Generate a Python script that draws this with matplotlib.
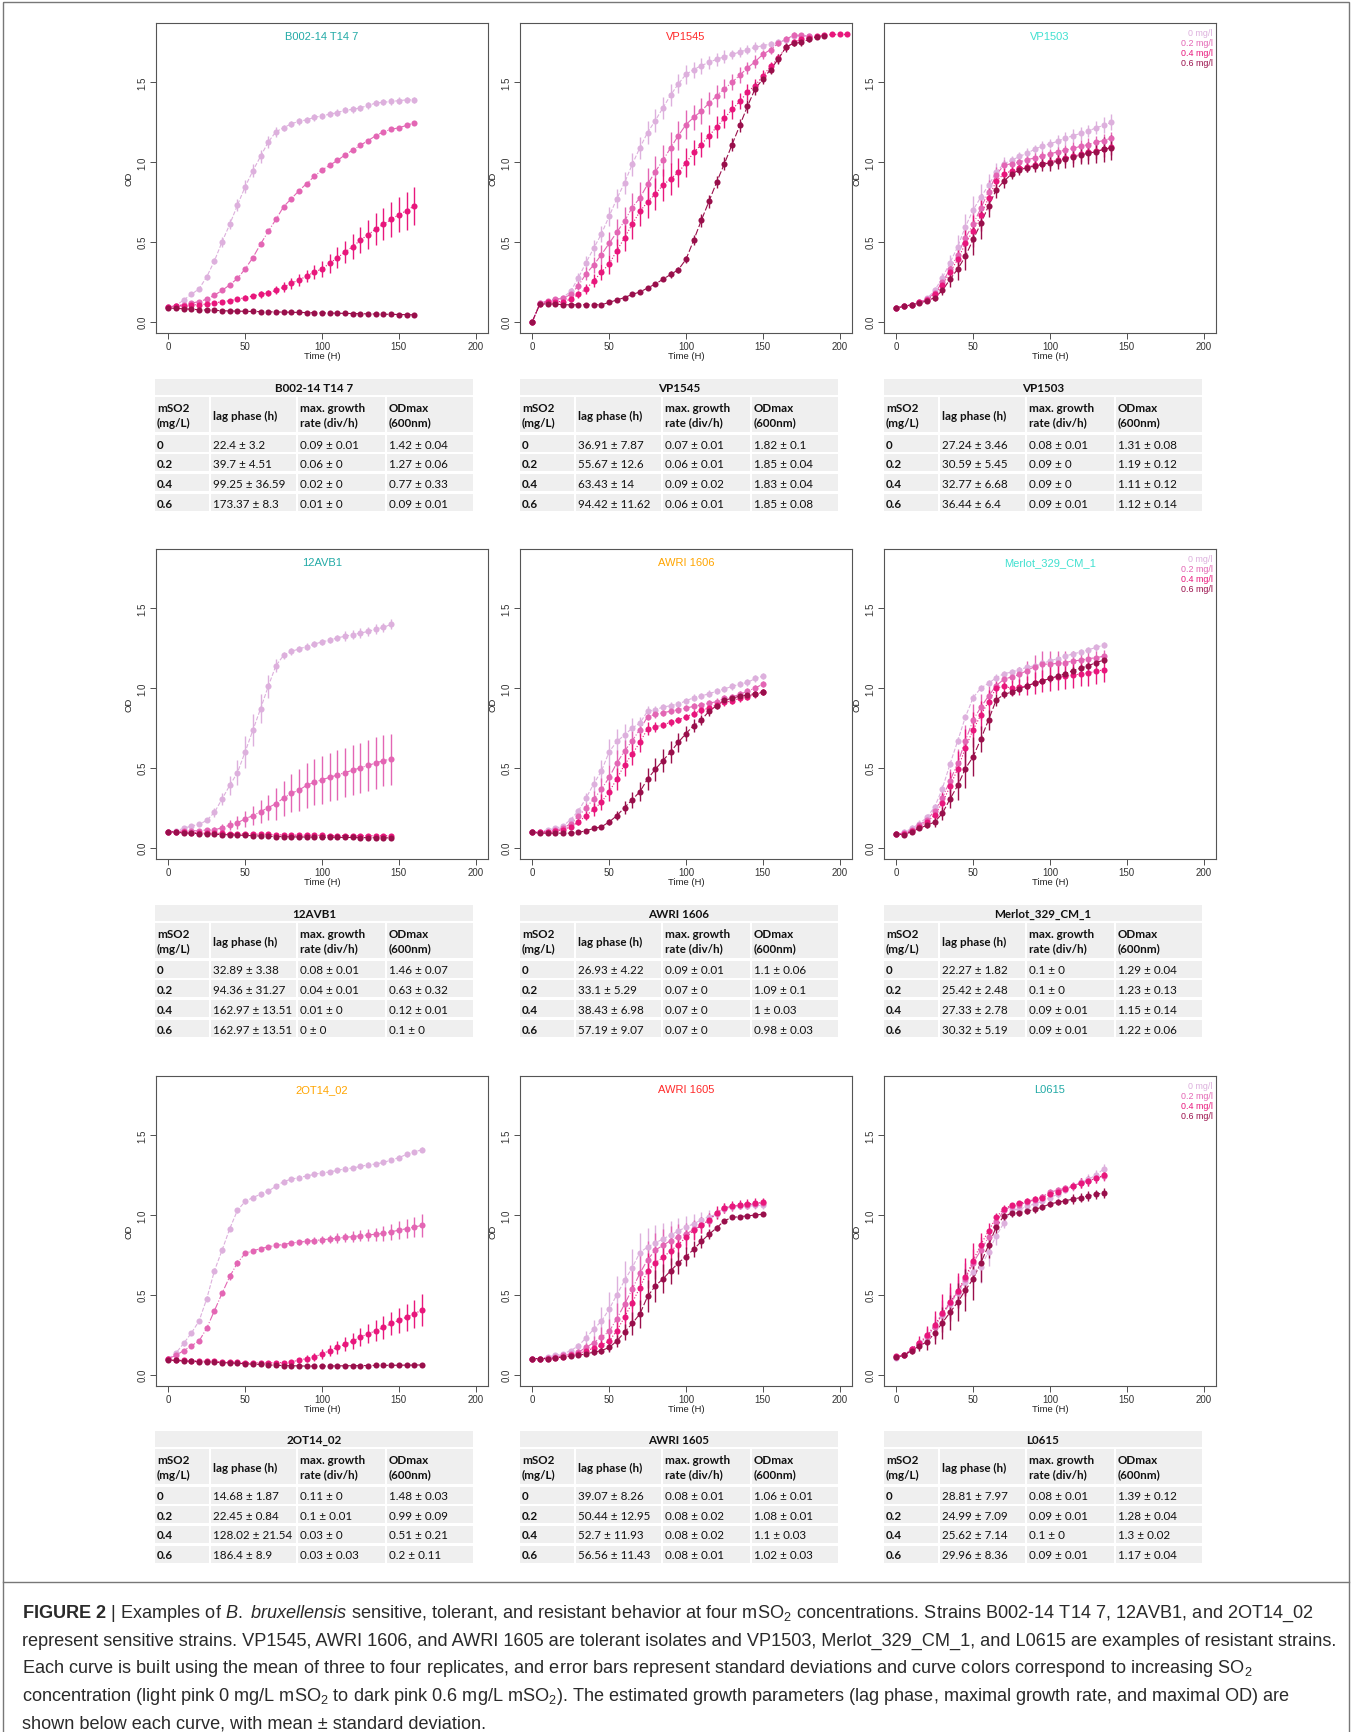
import numpy as np
import matplotlib
matplotlib.use("Agg")
import matplotlib.pyplot as plt
from matplotlib.patches import Rectangle
from matplotlib import font_manager

# ---- growth curves: OD every 5 h, mean and sd per SO2 level ----
b002_od0 = [0.09,0.10,0.135,0.17,0.205,0.28,0.38,0.50,0.61,0.73,0.845,0.945,1.035,1.125,1.19,1.215,1.24,1.255,1.265,1.28,1.29,1.30,1.31,1.325,1.33,1.34,1.355,1.37,1.375,1.38,1.385,1.39,1.39]
b002_sd0 = [0.01,0.01,0.01,0.01,0.01,0.02,0.02,0.03,0.03,0.04,0.04,0.04,0.04,0.04,0.03,0.02,0.02,0.02,0.02,0.02,0.02,0.02,0.02,0.02,0.02,0.02,0.02,0.02,0.02,0.02,0.02,0.02,0.02]
b002_od2 = [0.09,0.10,0.105,0.115,0.125,0.14,0.165,0.195,0.23,0.27,0.33,0.40,0.485,0.565,0.64,0.72,0.77,0.82,0.865,0.91,0.95,0.98,1.01,1.045,1.075,1.105,1.135,1.165,1.19,1.205,1.215,1.23,1.245]
b002_sd2 = 0.01
b002_od4 = [0.09,0.095,0.10,0.105,0.105,0.11,0.115,0.125,0.13,0.14,0.15,0.16,0.17,0.18,0.195,0.215,0.24,0.26,0.285,0.31,0.33,0.365,0.40,0.435,0.47,0.51,0.545,0.58,0.61,0.64,0.67,0.695,0.725]
b002_sd4 = [0.005,0.005,0.005,0.005,0.01,0.01,0.01,0.01,0.01,0.01,0.015,0.015,0.02,0.02,0.025,0.03,0.035,0.04,0.04,0.045,0.05,0.06,0.065,0.07,0.08,0.08,0.09,0.1,0.1,0.11,0.11,0.12,0.12]
b002_od6 = [0.085,0.082,0.08,0.077,0.074,0.072,0.07,0.068,0.066,0.065,0.064,0.063,0.062,0.061,0.06,0.059,0.058,0.057,0.056,0.055,0.054,0.053,0.052,0.051,0.05,0.049,0.048,0.047,0.046,0.045,0.044,0.043,0.042]
b002_sd6 = 0.005

vp1545_od0 = [0.0,0.115,0.125,0.135,0.15,0.19,0.275,0.37,0.46,0.55,0.66,0.77,0.87,0.985,1.09,1.185,1.26,1.34,1.42,1.49,1.55,1.58,1.605,1.625,1.645,1.66,1.675,1.69,1.705,1.72,1.73,1.74,1.75,1.765,1.79,1.79,1.79]
vp1545_sd0 = [0,0.01,0.01,0.01,0.01,0.02,0.03,0.04,0.05,0.05,0.06,0.06,0.07,0.07,0.07,0.07,0.07,0.07,0.07,0.06,0.06,0.05,0.05,0.04,0.04,0.04,0.03,0.03,0.03,0.03,0.02,0.02,0.02,0.02,0.01,0.01,0.01]
vp1545_od2 = [0.0,0.115,0.13,0.14,0.145,0.17,0.225,0.30,0.355,0.42,0.49,0.56,0.63,0.715,0.775,0.86,0.94,1.01,1.09,1.165,1.235,1.28,1.32,1.37,1.415,1.46,1.50,1.545,1.59,1.63,1.675,1.705,1.745,1.77,1.795,1.795,1.79]
vp1545_sd2 = [0,0.01,0.01,0.01,0.01,0.02,0.03,0.04,0.05,0.06,0.07,0.08,0.09,0.09,0.1,0.1,0.1,0.1,0.1,0.09,0.09,0.08,0.08,0.07,0.07,0.06,0.05,0.05,0.04,0.04,0.03,0.03,0.02,0.02,0.02,0.01,0.01]
vp1545_od4 = [0.0,0.11,0.12,0.125,0.125,0.14,0.17,0.205,0.255,0.31,0.36,0.445,0.525,0.61,0.69,0.75,0.80,0.855,0.895,0.935,0.995,1.06,1.11,1.165,1.22,1.275,1.33,1.38,1.44,1.48,1.54,1.60,1.65,1.72,1.75,1.77,1.78,1.79,1.795,1.80,1.80,1.80]
vp1545_sd4 = [0,0.01,0.01,0.01,0.01,0.01,0.02,0.03,0.04,0.05,0.06,0.07,0.08,0.09,0.09,0.1,0.1,0.1,0.1,0.09,0.09,0.08,0.08,0.07,0.07,0.06,0.06,0.05,0.05,0.04,0.04,0.03,0.03,0.02,0.02,0.01,0.01,0.01,0.01,0.005,0.005,0.005]
vp1545_od6 = [0.0,0.11,0.11,0.11,0.105,0.105,0.105,0.105,0.105,0.105,0.12,0.135,0.15,0.17,0.185,0.21,0.235,0.265,0.295,0.325,0.39,0.51,0.635,0.755,0.875,0.99,1.11,1.23,1.35,1.46,1.52,1.58,1.645,1.72,1.745,1.75,1.77,1.785,1.79]
vp1545_sd6 = [0,0.01,0.01,0.01,0.01,0.01,0.01,0.01,0.01,0.01,0.01,0.01,0.01,0.01,0.01,0.01,0.01,0.01,0.02,0.02,0.02,0.03,0.04,0.04,0.04,0.04,0.04,0.04,0.04,0.04,0.03,0.03,0.03,0.03,0.02,0.02,0.02,0.01,0.01]

vp1503_od0 = [0.085,0.095,0.105,0.12,0.145,0.195,0.275,0.37,0.47,0.595,0.70,0.78,0.855,0.935,0.99,1.01,1.035,1.055,1.08,1.10,1.115,1.13,1.15,1.165,1.18,1.195,1.215,1.23,1.25]
vp1503_sd0 = [0.005,0.005,0.005,0.01,0.01,0.02,0.03,0.05,0.07,0.08,0.09,0.08,0.07,0.06,0.04,0.03,0.03,0.03,0.03,0.03,0.03,0.04,0.04,0.04,0.04,0.04,0.04,0.05,0.05]
vp1503_od2 = [0.085,0.095,0.105,0.12,0.14,0.18,0.245,0.33,0.42,0.525,0.61,0.71,0.815,0.92,0.98,0.99,1.0,1.015,1.025,1.04,1.05,1.065,1.075,1.085,1.10,1.11,1.125,1.135,1.15]
vp1503_sd2 = [0.005,0.005,0.005,0.01,0.01,0.02,0.03,0.05,0.06,0.08,0.09,0.09,0.07,0.05,0.03,0.03,0.03,0.03,0.03,0.03,0.03,0.03,0.03,0.04,0.04,0.04,0.04,0.04,0.04]
vp1503_od4 = [0.085,0.095,0.105,0.12,0.135,0.17,0.23,0.31,0.39,0.49,0.57,0.665,0.775,0.88,0.925,0.945,0.96,0.97,0.98,0.99,1.0,1.015,1.025,1.035,1.05,1.06,1.07,1.08,1.095]
vp1503_sd4 = [0.005,0.005,0.005,0.01,0.01,0.02,0.03,0.05,0.07,0.09,0.1,0.1,0.08,0.05,0.04,0.03,0.03,0.03,0.03,0.03,0.04,0.04,0.04,0.04,0.05,0.05,0.05,0.05,0.05]
vp1503_od6 = [0.085,0.095,0.105,0.115,0.13,0.15,0.195,0.265,0.33,0.41,0.515,0.615,0.725,0.825,0.88,0.925,0.95,0.965,0.975,0.985,0.995,1.005,1.02,1.03,1.045,1.055,1.065,1.08,1.09]
vp1503_sd6 = [0.005,0.005,0.005,0.01,0.01,0.02,0.03,0.05,0.07,0.09,0.1,0.1,0.07,0.05,0.04,0.03,0.03,0.03,0.04,0.04,0.05,0.05,0.06,0.06,0.06,0.07,0.07,0.08,0.08]

avb_od0 = [0.10,0.105,0.12,0.135,0.145,0.17,0.22,0.305,0.39,0.47,0.60,0.735,0.87,1.01,1.14,1.205,1.23,1.245,1.26,1.275,1.29,1.30,1.315,1.325,1.335,1.345,1.355,1.37,1.38,1.40]
avb_sd0 = [0.005,0.005,0.01,0.01,0.01,0.01,0.03,0.04,0.06,0.08,0.1,0.1,0.09,0.07,0.04,0.02,0.02,0.02,0.02,0.02,0.02,0.02,0.02,0.03,0.03,0.03,0.03,0.03,0.03,0.03]
avb_od2 = [0.10,0.10,0.105,0.105,0.105,0.11,0.11,0.125,0.14,0.155,0.18,0.20,0.225,0.25,0.275,0.31,0.34,0.36,0.39,0.41,0.425,0.44,0.455,0.47,0.485,0.50,0.515,0.53,0.545,0.555]
avb_sd2 = [0.005,0.005,0.005,0.005,0.01,0.01,0.02,0.02,0.03,0.04,0.05,0.06,0.07,0.08,0.1,0.11,0.12,0.13,0.14,0.145,0.15,0.15,0.155,0.155,0.155,0.155,0.16,0.16,0.16,0.16]
avb_od4 = [0.10,0.098,0.096,0.094,0.092,0.09,0.09,0.088,0.087,0.086,0.085,0.084,0.083,0.082,0.08,0.079,0.078,0.077,0.077,0.076,0.076,0.075,0.075,0.075,0.074,0.074,0.074,0.074,0.074,0.075]
avb_sd4 = 0.01
avb_od6 = [0.10,0.095,0.092,0.09,0.087,0.085,0.083,0.081,0.08,0.078,0.076,0.074,0.072,0.07,0.069,0.068,0.067,0.066,0.066,0.065,0.065,0.064,0.064,0.063,0.063,0.062,0.062,0.061,0.061,0.06]
avb_sd6 = 0.005

a1606_od0 = [0.10,0.10,0.11,0.12,0.135,0.175,0.23,0.31,0.40,0.48,0.60,0.665,0.705,0.75,0.78,0.855,0.865,0.88,0.89,0.90,0.92,0.94,0.95,0.965,0.98,0.995,1.01,1.025,1.035,1.06,1.075]
a1606_sd0 = [0.005,0.005,0.01,0.01,0.01,0.01,0.02,0.03,0.05,0.07,0.08,0.08,0.07,0.06,0.04,0.03,0.02,0.02,0.02,0.02,0.02,0.02,0.02,0.02,0.02,0.02,0.02,0.02,0.02,0.02,0.02]
a1606_od2 = [0.095,0.095,0.10,0.11,0.12,0.15,0.195,0.25,0.305,0.365,0.44,0.53,0.605,0.67,0.74,0.82,0.835,0.845,0.855,0.865,0.875,0.885,0.895,0.905,0.915,0.935,0.945,0.96,0.98,1.0,1.025]
a1606_sd2 = [0.005,0.005,0.01,0.01,0.01,0.01,0.02,0.03,0.05,0.07,0.08,0.08,0.07,0.06,0.04,0.02,0.02,0.02,0.02,0.02,0.02,0.02,0.02,0.02,0.02,0.02,0.02,0.02,0.02,0.02,0.02]
a1606_od4 = [0.095,0.095,0.10,0.105,0.11,0.13,0.16,0.20,0.24,0.285,0.35,0.43,0.52,0.585,0.66,0.745,0.755,0.77,0.785,0.80,0.82,0.84,0.86,0.875,0.895,0.91,0.92,0.935,0.945,0.96,0.975]
a1606_sd4 = [0.005,0.005,0.005,0.01,0.01,0.01,0.02,0.03,0.04,0.05,0.06,0.07,0.07,0.07,0.06,0.04,0.03,0.02,0.02,0.02,0.02,0.02,0.02,0.02,0.02,0.02,0.02,0.02,0.02,0.02,0.02]
a1606_od6 = [0.095,0.09,0.09,0.09,0.09,0.09,0.095,0.105,0.12,0.13,0.16,0.20,0.25,0.30,0.35,0.43,0.49,0.545,0.60,0.66,0.715,0.765,0.80,0.855,0.89,0.925,0.935,0.95,0.955,0.965,0.975]
a1606_sd6 = [0.005,0.005,0.005,0.005,0.005,0.005,0.005,0.01,0.01,0.01,0.02,0.03,0.04,0.05,0.06,0.07,0.07,0.07,0.07,0.06,0.05,0.04,0.03,0.03,0.02,0.02,0.02,0.02,0.02,0.02,0.02]

mer_od0 = [0.085,0.095,0.12,0.15,0.19,0.255,0.37,0.525,0.67,0.82,0.94,1.0,1.03,1.065,1.09,1.10,1.115,1.13,1.14,1.155,1.17,1.185,1.2,1.215,1.225,1.24,1.255,1.27]
mer_sd0 = 0.02
mer_od2 = [0.085,0.09,0.11,0.14,0.175,0.23,0.31,0.42,0.53,0.67,0.80,0.88,0.95,1.015,1.055,1.07,1.085,1.11,1.135,1.15,1.15,1.155,1.16,1.17,1.175,1.185,1.19,1.2]
mer_sd2 = [0.005,0.005,0.01,0.01,0.02,0.03,0.05,0.07,0.09,0.1,0.1,0.08,0.06,0.04,0.03,0.04,0.05,0.06,0.07,0.08,0.08,0.08,0.07,0.06,0.05,0.05,0.04,0.04]
mer_od4 = [0.085,0.085,0.105,0.13,0.16,0.205,0.28,0.385,0.495,0.625,0.74,0.83,0.915,1.0,1.01,1.0,1.005,1.015,1.03,1.045,1.06,1.07,1.075,1.08,1.09,1.095,1.105,1.115]
mer_sd4 = [0.005,0.005,0.01,0.01,0.02,0.04,0.06,0.09,0.11,0.12,0.11,0.09,0.07,0.04,0.04,0.05,0.05,0.06,0.07,0.07,0.08,0.08,0.08,0.08,0.08,0.08,0.08,0.08]
mer_od6 = [0.085,0.08,0.10,0.12,0.14,0.16,0.215,0.305,0.39,0.495,0.57,0.68,0.80,0.925,0.96,0.975,0.995,1.015,1.03,1.045,1.06,1.075,1.09,1.11,1.125,1.14,1.16,1.175]
mer_sd6 = [0.005,0.005,0.01,0.01,0.02,0.03,0.04,0.06,0.09,0.12,0.12,0.08,0.06,0.04,0.02,0.02,0.02,0.02,0.02,0.02,0.02,0.02,0.02,0.02,0.02,0.02,0.02,0.02]

ot_od0 = [0.10,0.135,0.195,0.26,0.335,0.475,0.65,0.78,0.915,1.03,1.085,1.11,1.13,1.15,1.18,1.21,1.225,1.235,1.245,1.255,1.265,1.27,1.28,1.29,1.295,1.305,1.315,1.32,1.33,1.345,1.36,1.38,1.395,1.41]
ot_sd0 = 0.015
ot_od2 = [0.10,0.12,0.15,0.18,0.21,0.29,0.40,0.51,0.615,0.70,0.76,0.775,0.79,0.80,0.81,0.815,0.825,0.83,0.835,0.84,0.845,0.85,0.855,0.86,0.865,0.87,0.875,0.88,0.885,0.895,0.905,0.915,0.925,0.935]
ot_sd2 = [0.005,0.005,0.005,0.01,0.01,0.01,0.01,0.01,0.02,0.02,0.01,0.01,0.01,0.01,0.01,0.01,0.015,0.015,0.02,0.02,0.025,0.025,0.03,0.03,0.035,0.035,0.04,0.04,0.045,0.05,0.055,0.06,0.065,0.07]
ot_od4 = [0.095,0.09,0.088,0.087,0.085,0.083,0.082,0.08,0.078,0.077,0.075,0.074,0.073,0.073,0.074,0.075,0.08,0.09,0.10,0.11,0.13,0.15,0.17,0.19,0.21,0.235,0.255,0.275,0.295,0.32,0.34,0.36,0.38,0.405]
ot_sd4 = [0.008,0.008,0.008,0.008,0.008,0.008,0.008,0.008,0.008,0.008,0.008,0.008,0.008,0.008,0.008,0.008,0.01,0.015,0.02,0.025,0.03,0.035,0.04,0.045,0.05,0.055,0.06,0.065,0.07,0.075,0.08,0.085,0.09,0.1]
ot_od6 = [0.09,0.088,0.085,0.083,0.08,0.078,0.077,0.075,0.073,0.07,0.068,0.065,0.063,0.06,0.058,0.056,0.055,0.054,0.053,0.053,0.053,0.054,0.054,0.055,0.055,0.056,0.056,0.057,0.057,0.058,0.058,0.059,0.059,0.06]
ot_sd6 = 0.005

a1605_od0 = [0.10,0.10,0.11,0.12,0.13,0.15,0.18,0.23,0.285,0.335,0.41,0.50,0.59,0.67,0.765,0.80,0.825,0.85,0.875,0.90,0.925,0.945,0.97,0.99,1.005,1.04,1.05,1.055,1.055,1.06,1.06]
a1605_sd0 = [0.005,0.005,0.005,0.01,0.01,0.01,0.02,0.04,0.06,0.09,0.11,0.12,0.12,0.12,0.12,0.12,0.11,0.1,0.09,0.08,0.07,0.06,0.05,0.04,0.03,0.02,0.02,0.02,0.02,0.02,0.02]
a1605_od2 = [0.10,0.10,0.105,0.11,0.12,0.13,0.14,0.17,0.20,0.235,0.27,0.35,0.44,0.535,0.635,0.72,0.78,0.81,0.84,0.865,0.88,0.91,0.935,0.965,1.01,1.045,1.055,1.06,1.065,1.07,1.075]
a1605_sd2 = [0.005,0.005,0.005,0.01,0.01,0.01,0.02,0.03,0.04,0.06,0.08,0.1,0.11,0.12,0.12,0.12,0.11,0.1,0.09,0.08,0.07,0.06,0.05,0.04,0.03,0.03,0.02,0.02,0.02,0.02,0.02]
a1605_od4 = [0.10,0.10,0.10,0.105,0.11,0.12,0.13,0.15,0.165,0.185,0.21,0.275,0.36,0.45,0.545,0.65,0.70,0.735,0.775,0.815,0.86,0.905,0.935,0.97,1.015,1.045,1.055,1.065,1.07,1.075,1.08]
a1605_sd4 = [0.005,0.005,0.005,0.01,0.01,0.01,0.02,0.02,0.03,0.04,0.06,0.08,0.1,0.11,0.11,0.11,0.1,0.09,0.09,0.08,0.07,0.06,0.05,0.04,0.04,0.03,0.03,0.03,0.03,0.03,0.03]
a1605_od6 = [0.10,0.10,0.10,0.105,0.11,0.115,0.12,0.13,0.14,0.15,0.17,0.21,0.265,0.32,0.38,0.49,0.555,0.60,0.65,0.70,0.74,0.785,0.835,0.88,0.92,0.965,0.985,0.99,0.995,1.0,1.005]
a1605_sd6 = [0.005,0.005,0.005,0.005,0.01,0.01,0.01,0.01,0.02,0.02,0.03,0.04,0.05,0.07,0.09,0.1,0.1,0.09,0.08,0.07,0.06,0.05,0.04,0.03,0.02,0.01,0.01,0.01,0.01,0.01,0.01]

l06_od0 = [0.105,0.12,0.155,0.19,0.235,0.30,0.375,0.445,0.51,0.58,0.645,0.675,0.77,0.87,0.95,1.035,1.035,1.055,1.07,1.085,1.11,1.13,1.16,1.18,1.205,1.225,1.25,1.29]
l06_sd0 = [0.005,0.01,0.02,0.03,0.04,0.05,0.06,0.07,0.08,0.09,0.1,0.1,0.09,0.06,0.03,0.02,0.02,0.02,0.02,0.02,0.02,0.02,0.02,0.03,0.03,0.03,0.03,0.03]
l06_od2 = [0.11,0.12,0.16,0.195,0.24,0.30,0.38,0.45,0.52,0.60,0.70,0.78,0.86,0.955,1.03,1.055,1.065,1.08,1.095,1.115,1.145,1.155,1.17,1.185,1.2,1.215,1.23,1.245]
l06_sd2 = [0.005,0.01,0.02,0.03,0.05,0.07,0.09,0.1,0.1,0.1,0.09,0.08,0.06,0.04,0.02,0.02,0.02,0.02,0.02,0.02,0.02,0.02,0.02,0.02,0.03,0.03,0.03,0.03]
l06_od4 = [0.115,0.12,0.16,0.20,0.245,0.31,0.385,0.455,0.525,0.61,0.715,0.815,0.90,0.985,1.04,1.06,1.075,1.085,1.10,1.11,1.13,1.145,1.165,1.18,1.20,1.215,1.23,1.25]
l06_sd4 = [0.005,0.01,0.02,0.04,0.06,0.09,0.12,0.12,0.11,0.12,0.11,0.07,0.05,0.03,0.02,0.01,0.01,0.02,0.02,0.02,0.02,0.02,0.02,0.02,0.03,0.03,0.03,0.03]
l06_od6 = [0.11,0.12,0.15,0.18,0.205,0.26,0.325,0.39,0.455,0.53,0.60,0.70,0.81,0.925,0.995,1.01,1.015,1.025,1.035,1.05,1.07,1.08,1.09,1.10,1.11,1.12,1.13,1.14]
l06_sd6 = [0.005,0.01,0.02,0.03,0.05,0.07,0.1,0.11,0.12,0.13,0.13,0.12,0.08,0.05,0.03,0.02,0.02,0.02,0.02,0.02,0.02,0.02,0.02,0.03,0.03,0.03,0.03,0.03]

# ---- growth parameter tables ----
so2_levels = ["0", "0.2", "0.4", "0.6"]
legend_labels = ["0 mg/l", "0.2 mg/l", "0.4 mg/l", "0.6 mg/l"]

b002_lag = ["22.4 ± 3.2", "39.7 ± 4.51", "99.25 ± 36.59", "173.37 ± 8.3"]
b002_rate = ["0.09 ± 0.01", "0.06 ± 0", "0.02 ± 0", "0.01 ± 0"]
b002_odmax = ["1.42 ± 0.04", "1.27 ± 0.06", "0.77 ± 0.33", "0.09 ± 0.01"]
vp1545_lag = ["36.91 ± 7.87", "55.67 ± 12.6", "63.43 ± 14", "94.42 ± 11.62"]
vp1545_rate = ["0.07 ± 0.01", "0.06 ± 0.01", "0.09 ± 0.02", "0.06 ± 0.01"]
vp1545_odmax = ["1.82 ± 0.1", "1.85 ± 0.04", "1.83 ± 0.04", "1.85 ± 0.08"]
vp1503_lag = ["27.24 ± 3.46", "30.59 ± 5.45", "32.77 ± 6.68", "36.44 ± 6.4"]
vp1503_rate = ["0.08 ± 0.01", "0.09 ± 0", "0.09 ± 0", "0.09 ± 0.01"]
vp1503_odmax = ["1.31 ± 0.08", "1.19 ± 0.12", "1.11 ± 0.12", "1.12 ± 0.14"]
avb_lag = ["32.89 ± 3.38", "94.36 ± 31.27", "162.97 ± 13.51", "162.97 ± 13.51"]
avb_rate = ["0.08 ± 0.01", "0.04 ± 0.01", "0.01 ± 0", "0 ± 0"]
avb_odmax = ["1.46 ± 0.07", "0.63 ± 0.32", "0.12 ± 0.01", "0.1 ± 0"]
a1606_lag = ["26.93 ± 4.22", "33.1 ± 5.29", "38.43 ± 6.98", "57.19 ± 9.07"]
a1606_rate = ["0.09 ± 0.01", "0.07 ± 0", "0.07 ± 0", "0.07 ± 0"]
a1606_odmax = ["1.1 ± 0.06", "1.09 ± 0.1", "1 ± 0.03", "0.98 ± 0.03"]
mer_lag = ["22.27 ± 1.82", "25.42 ± 2.48", "27.33 ± 2.78", "30.32 ± 5.19"]
mer_rate = ["0.1 ± 0", "0.1 ± 0", "0.09 ± 0.01", "0.09 ± 0.01"]
mer_odmax = ["1.29 ± 0.04", "1.23 ± 0.13", "1.15 ± 0.14", "1.22 ± 0.06"]
ot_lag = ["14.68 ± 1.87", "22.45 ± 0.84", "128.02 ± 21.54", "186.4 ± 8.9"]
ot_rate = ["0.11 ± 0", "0.1 ± 0.01", "0.03 ± 0", "0.03 ± 0.03"]
ot_odmax = ["1.48 ± 0.03", "0.99 ± 0.09", "0.51 ± 0.21", "0.2 ± 0.11"]
a1605_lag = ["39.07 ± 8.26", "50.44 ± 12.95", "52.7 ± 11.93", "56.56 ± 11.43"]
a1605_rate = ["0.08 ± 0.01", "0.08 ± 0.02", "0.08 ± 0.02", "0.08 ± 0.01"]
a1605_odmax = ["1.06 ± 0.01", "1.08 ± 0.01", "1.1 ± 0.03", "1.02 ± 0.03"]
l06_lag = ["28.81 ± 7.97", "24.99 ± 7.09", "25.62 ± 7.14", "29.96 ± 8.36"]
l06_rate = ["0.08 ± 0.01", "0.09 ± 0.01", "0.1 ± 0", "0.09 ± 0.01"]
l06_odmax = ["1.39 ± 0.12", "1.28 ± 0.04", "1.3 ± 0.02", "1.17 ± 0.04"]

caption_lines = [
    r"$\mathbf{FIGURE\ 2}$ | Examples of $\mathit{B.\ bruxellensis}$ sensitive, tolerant, and resistant behavior at four mSO$_2$ concentrations. Strains B002-14 T14 7, 12AVB1, and 2OT14_02",
    "represent sensitive strains. VP1545, AWRI 1606, and AWRI 1605 are tolerant isolates and VP1503, Merlot_329_CM_1, and L0615 are examples of resistant strains.",
    r"Each curve is built using the mean of three to four replicates, and error bars represent standard deviations and curve colors correspond to increasing SO$_2$",
    r"concentration (light pink 0 mg/L mSO$_2$ to dark pink 0.6 mg/L mSO$_2$). The estimated growth parameters (lag phase, maximal growth rate, and maximal OD) are",
    "shown below each curve, with mean ± standard deviation.",
]

# ---- styling ----
W, H = 1352, 1733
series_cols = ["#DDB0DD", "#E366B4", "#E8177C", "#990F4B"]
series_ls = ["--", "-.", ":", (0, (6, 2))]
teal, turq, red, orange = "#22AAA6", "#40E0D0", "#FF2A2A", "#FFA500"

cap_font = "Liberation Sans Narrow"
try:
    font_manager.findfont(cap_font, fallback_to_default=False)
except ValueError:
    cap_font = "Liberation Sans"

plt.rcParams["font.family"] = ["Liberation Sans", "DejaVu Sans"]
plt.rcParams["mathtext.fontset"] = "custom"
plt.rcParams["mathtext.rm"] = cap_font
plt.rcParams["mathtext.it"] = cap_font + ":italic"
plt.rcParams["mathtext.bf"] = cap_font + ":bold"

panels = [
    ("B002-14 T14 7", teal, [(b002_od0, b002_sd0), (b002_od2, b002_sd2), (b002_od4, b002_sd4), (b002_od6, b002_sd6)], (b002_lag, b002_rate, b002_odmax)),
    ("VP1545", red, [(vp1545_od0, vp1545_sd0), (vp1545_od2, vp1545_sd2), (vp1545_od4, vp1545_sd4), (vp1545_od6, vp1545_sd6)], (vp1545_lag, vp1545_rate, vp1545_odmax)),
    ("VP1503", turq, [(vp1503_od0, vp1503_sd0), (vp1503_od2, vp1503_sd2), (vp1503_od4, vp1503_sd4), (vp1503_od6, vp1503_sd6)], (vp1503_lag, vp1503_rate, vp1503_odmax)),
    ("12AVB1", teal, [(avb_od0, avb_sd0), (avb_od2, avb_sd2), (avb_od4, avb_sd4), (avb_od6, avb_sd6)], (avb_lag, avb_rate, avb_odmax)),
    ("AWRI 1606", orange, [(a1606_od0, a1606_sd0), (a1606_od2, a1606_sd2), (a1606_od4, a1606_sd4), (a1606_od6, a1606_sd6)], (a1606_lag, a1606_rate, a1606_odmax)),
    ("Merlot_329_CM_1", turq, [(mer_od0, mer_sd0), (mer_od2, mer_sd2), (mer_od4, mer_sd4), (mer_od6, mer_sd6)], (mer_lag, mer_rate, mer_odmax)),
    ("2OT14_02", orange, [(ot_od0, ot_sd0), (ot_od2, ot_sd2), (ot_od4, ot_sd4), (ot_od6, ot_sd6)], (ot_lag, ot_rate, ot_odmax)),
    ("AWRI 1605", red, [(a1605_od0, a1605_sd0), (a1605_od2, a1605_sd2), (a1605_od4, a1605_sd4), (a1605_od6, a1605_sd6)], (a1605_lag, a1605_rate, a1605_odmax)),
    ("L0615", teal, [(l06_od0, l06_sd0), (l06_od2, l06_sd2), (l06_od4, l06_sd4), (l06_od6, l06_sd6)], (l06_lag, l06_rate, l06_odmax)),
]

col_left = [156, 520, 884]
row_top = [24, 550, 1077]
pw, ph = 332, 310
tab_left = [155, 520, 884]
tab_top = [380, 906, 1432]

fig = plt.figure(figsize=(W / 100, H / 100), dpi=100)
fig.patch.set_facecolor("white")

# overlay in pixel coordinates for tables, frame and caption
ov = fig.add_axes([0, 0, 1, 1])
ov.set_xlim(0, W)
ov.set_ylim(H, 0)
ov.axis("off")
ov.add_patch(Rectangle((3, 3), W - 6, H + 10, fill=False, ec="#777777", lw=1.0))
ov.plot([3, W - 3], [1583, 1583], color="#777777", lw=1.0)

tfs = 8.4


def draw_table(x0, y0, name, lag, rate, odmax):
    cell = "#EFEFEF"
    xs = [0, 56, 143, 232]
    ws = [54, 85, 87, 86]
    ov.add_patch(Rectangle((x0, y0), 318, 16, fc=cell, ec="none"))
    ov.text(x0 + 159, y0 + 8.5, name, ha="center", va="center", fontsize=tfs,
            fontweight="bold", family="Lato", color="#111111")
    heads = ["mSO2\n(mg/L)", "lag phase (h)", "max. growth\nrate (div/h)", "ODmax\n(600nm)"]
    for j in range(4):
        ov.add_patch(Rectangle((x0 + xs[j], y0 + 18), ws[j], 35, fc=cell, ec="none"))
        ov.text(x0 + xs[j] + 2, y0 + 36, heads[j], ha="left", va="center", fontsize=tfs,
                fontweight="bold", family="Lato", color="#111111", linespacing=1.35)
    row_y = [56, 75, 95, 115]
    for i in range(4):
        vals = [so2_levels[i], lag[i], rate[i], odmax[i]]
        for j in range(4):
            ov.add_patch(Rectangle((x0 + xs[j], y0 + row_y[i]), ws[j], 17, fc=cell, ec="none"))
            ov.text(x0 + xs[j] + 2, y0 + row_y[i] + 9, vals[j], ha="left", va="center",
                    fontsize=tfs, family="Lato", color="#111111",
                    fontweight="bold" if j == 0 else "normal")


for k, (name, ncol, series, tab) in enumerate(panels):
    r, c = divmod(k, 3)
    left, top = col_left[c], row_top[r]
    ax = fig.add_axes([left / W, 1 - (top + ph) / H, pw / W, ph / H])
    for i, (od, sd) in enumerate(series):
        t = np.arange(len(od)) * 5
        ax.plot(t, od, ls=series_ls[i], color=series_cols[i], lw=0.8)
        ax.errorbar(t, od, yerr=sd, fmt="o", color=series_cols[i], ms=4.4, mew=0,
                    elinewidth=1.0, capsize=0)
    ax.set_xlim(-8, 208)
    ax.set_ylim(-0.072, 1.872)
    ax.set_xticks([0, 50, 100, 150, 200])
    ax.set_yticks([0, 0.5, 1.0, 1.5])
    ax.set_yticklabels(["0.0", "0.5", "1.0", "1.5"], rotation=90, va="center")
    ax.tick_params(direction="out", length=4, width=0.6, labelsize=7, pad=2, colors="#333333")
    for s in ax.spines.values():
        s.set_color("#555555")
        s.set_linewidth(0.8)
    ax.set_xlabel("Time (H)", fontsize=6.8, labelpad=0, color="#222222")
    ax.set_ylabel("OD", fontsize=6.8, labelpad=3, color="#222222")
    ax.text(0.5, 0.975, name, transform=ax.transAxes, ha="center", va="top",
            fontsize=8, color=ncol)
    if c == 2:
        for i, lab in enumerate(legend_labels):
            ax.text(0.99, 0.985 - i * 0.033, lab, transform=ax.transAxes, ha="right",
                    va="top", fontsize=6.4, color=series_cols[i])
    draw_table(tab_left[c], tab_top[r], name, *tab)

# caption, sized so the second line fills the text width
cap_y = [1614, 1641.5, 1669, 1696.5, 1724]
cap_texts = []
for i, line in enumerate(caption_lines):
    cap_texts.append(ov.text(22, cap_y[i], line, ha="left", va="center", fontsize=13,
                             family=[cap_font, "DejaVu Sans"], color="#2a2a2a"))
fig.canvas.draw()
wline = cap_texts[1].get_window_extent().width
fs = 13 * 1318 / wline
for t in cap_texts:
    t.set_fontsize(fs)

fig.savefig("out.png", dpi=100)
